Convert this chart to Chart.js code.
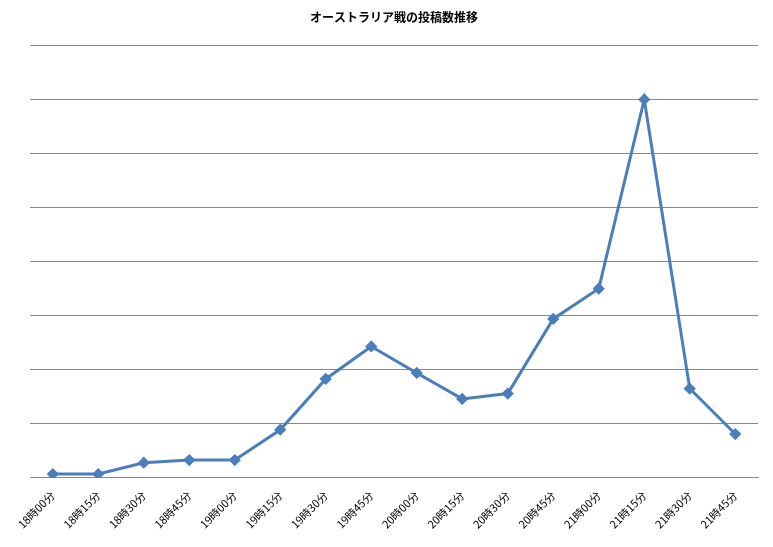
<!DOCTYPE html>
<html><head><meta charset="utf-8">
<script src="https://cdn.jsdelivr.net/npm/chart.js"></script>
<style>html,body{margin:0;padding:0;background:#fff}#w{width:773px;height:547px}</style>
</head><body><div id="w"><canvas id="c"></canvas></div>
<script>
const categories=["18時00分","18時15分","18時30分","18時45分","19時00分","19時15分","19時30分","19時45分","20時00分","20時15分","20時30分","20時45分","21時00分","21時15分","21時30分","21時45分"];
const posts=[7,7,28,33,33,89,183,243,194,146,156,294,350,700,165,81];
new Chart(document.getElementById('c'),{
type:'line',
data:{labels:categories,datasets:[{data:posts,borderColor:'#4a7ebb',backgroundColor:'#4a7ebb',borderWidth:3,pointStyle:'rectRot',pointRadius:4,pointHoverRadius:4,tension:0}]},
options:{responsive:true,maintainAspectRatio:false,animation:false,
layout:{padding:{left:30,right:15,top:0,bottom:13}},
plugins:{legend:{display:false},tooltip:{enabled:false},
title:{display:true,text:'オーストラリア戦の投稿数推移',color:'#000',font:{family:'Noto Sans CJK JP',size:12,weight:'bold'},padding:{top:10,bottom:21}}},
scales:{
x:{offset:true,grid:{display:false},border:{color:'#888'},ticks:{color:'#000',maxRotation:45,minRotation:45,font:{family:'Noto Sans CJK JP',size:11}}},
y:{min:0,max:800,ticks:{stepSize:100,display:false},border:{display:false},grid:{color:'#888',drawTicks:false}}
}}});
</script></body></html>
